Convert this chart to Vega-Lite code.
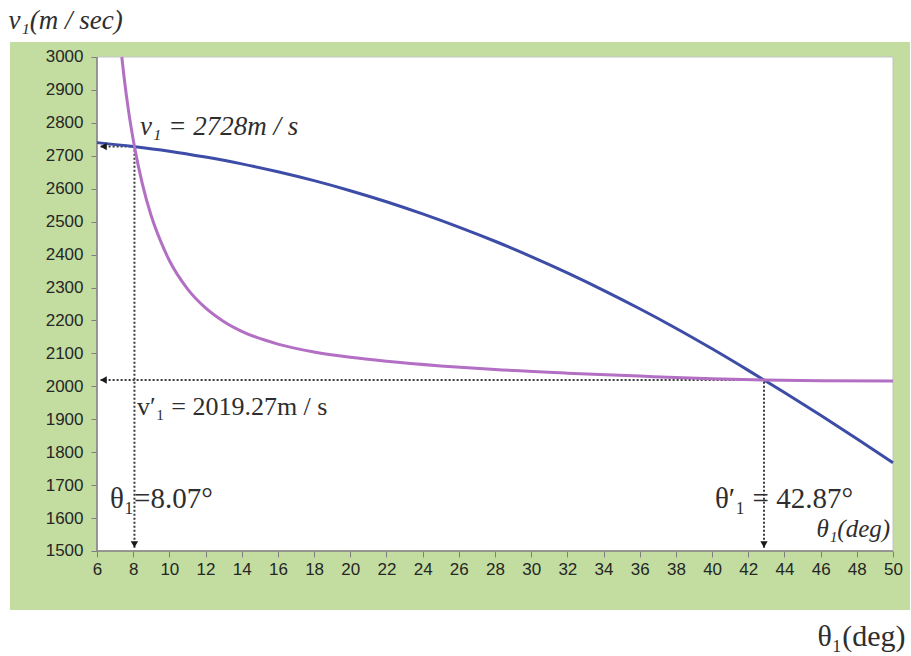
{
  "$schema": "https://vega.github.io/schema/vega-lite/v6.json",
  "width": 900,
  "height": 568,
  "autosize": {"type": "none"},
  "padding": {"left": 10, "top": 42, "right": 1, "bottom": 46},
  "background": "white",
  "config": {
    "view": {"fill": "#c2dd9f", "stroke": null},
    "text": {"font": "Liberation Serif, DejaVu Serif, serif", "color": "#2e2e2e", "align": "left", "baseline": "alphabetic"},
    "axis": {
      "labelOverlap": false, "labelFlush": false, "format": "d", "grid": false, "domain": false,
      "tickCount": 60,
      "tickColor": "#7f7f7f", "tickSize": 6, "tickWidth": 1,
      "labelFont": "Liberation Sans, Arial, sans-serif", "labelFontSize": 17, "labelColor": "#262626",
      "titleFont": "Liberation Serif, DejaVu Serif, serif", "titleFontWeight": "normal", "titleColor": "#2e2e2e",
      "titleBaseline": "alphabetic"
    },
    "axisX": {"offset": -59, "labelPadding": 4, "titleFontSize": 30, "titleAlign": "right", "titleX": 895, "titleY": 94},
    "axisY": {"offset": -87, "labelPadding": 8, "titleFontSize": 27, "titleFontStyle": "italic", "titleAngle": 0, "titleAlign": "left", "titleX": -89, "titleY": -14}
  },
  "data": {"values": [{"note": "annotation"}]},
  "datasets": {
    "frame": [{"t0": 6, "t1": 50, "v0": 1500, "v1": 3000}],
    "blue": [
      {"theta": 6, "v": 2740},
      {"theta": 8, "v": 2728.4},
      {"theta": 10, "v": 2714},
      {"theta": 12, "v": 2696},
      {"theta": 14, "v": 2675.5},
      {"theta": 16, "v": 2651.5},
      {"theta": 18, "v": 2624.5},
      {"theta": 20, "v": 2594},
      {"theta": 22, "v": 2560.5},
      {"theta": 24, "v": 2523.5},
      {"theta": 26, "v": 2483.5},
      {"theta": 28, "v": 2440.5},
      {"theta": 30, "v": 2394},
      {"theta": 32, "v": 2344.5},
      {"theta": 34, "v": 2291.5},
      {"theta": 36, "v": 2235.5},
      {"theta": 38, "v": 2176.5},
      {"theta": 40, "v": 2114},
      {"theta": 42, "v": 2048.5},
      {"theta": 42.87, "v": 2019.27},
      {"theta": 44, "v": 1981},
      {"theta": 46, "v": 1912},
      {"theta": 48, "v": 1841},
      {"theta": 50, "v": 1768}
    ],
    "purple": [
      {"theta": 7.37, "v": 3000},
      {"theta": 7.5, "v": 2937},
      {"theta": 7.75, "v": 2834},
      {"theta": 8.07, "v": 2728},
      {"theta": 8.5, "v": 2616},
      {"theta": 9, "v": 2517},
      {"theta": 9.5, "v": 2443},
      {"theta": 10, "v": 2382},
      {"theta": 11, "v": 2296},
      {"theta": 12, "v": 2238},
      {"theta": 13, "v": 2197},
      {"theta": 14, "v": 2167},
      {"theta": 16, "v": 2128},
      {"theta": 18, "v": 2104},
      {"theta": 20, "v": 2088},
      {"theta": 22, "v": 2076},
      {"theta": 25, "v": 2062},
      {"theta": 28, "v": 2051},
      {"theta": 32, "v": 2040},
      {"theta": 36, "v": 2031},
      {"theta": 40, "v": 2023},
      {"theta": 42.87, "v": 2019.27},
      {"theta": 46, "v": 2017},
      {"theta": 50, "v": 2016}
    ]
  },
  "layer": [
    {
      "data": {"name": "frame"},
      "mark": {"type": "rect", "fill": "white", "stroke": "#c4c4c4", "strokeWidth": 1},
      "encoding": {
        "x": {
          "field": "t0", "type": "quantitative",
          "scale": {"domain": [1.191, 50.94], "nice": false, "zero": false},
          "axis": {
            "values": [6, 8, 10, 12, 14, 16, 18, 20, 22, 24, 26, 28, 30, 32, 34, 36, 38, 40, 42, 44, 46, 48, 50],
            "tickCount": 60,
            "title": "θ₁(deg)"
          }
        },
        "x2": {"field": "t1"},
        "y": {
          "field": "v0", "type": "quantitative",
          "scale": {"domain": [1320.8, 3045.5], "nice": false, "zero": false},
          "axis": {
            "values": [1500, 1600, 1700, 1800, 1900, 2000, 2100, 2200, 2300, 2400, 2500, 2600, 2700, 2800, 2900, 3000],
            "tickCount": 60,
            "title": "v₁(m / sec)"
          }
        },
        "y2": {"field": "v1"}
      }
    },
    {
      "mark": {"type": "rule", "color": "#808080", "strokeWidth": 1.5},
      "encoding": {
        "x": {"datum": 6, "type": "quantitative"},
        "x2": {"datum": 50},
        "y": {"datum": 1500, "type": "quantitative"}
      }
    },
    {
      "mark": {"type": "rule", "color": "#808080", "strokeWidth": 1.5},
      "encoding": {
        "x": {"datum": 6, "type": "quantitative"},
        "y": {"datum": 1500, "type": "quantitative"},
        "y2": {"datum": 3000}
      }
    },
    {
      "mark": {"type": "rule", "color": "#3a3a3a", "strokeWidth": 2, "strokeDash": [2, 2]},
      "encoding": {
        "x": {"datum": 6.2, "type": "quantitative"},
        "x2": {"datum": 8.07},
        "y": {"datum": 2728, "type": "quantitative"}
      }
    },
    {
      "mark": {"type": "rule", "color": "#3a3a3a", "strokeWidth": 2, "strokeDash": [2, 2]},
      "encoding": {
        "x": {"datum": 8.07, "type": "quantitative"},
        "y": {"datum": 1510, "type": "quantitative"},
        "y2": {"datum": 2728}
      }
    },
    {
      "mark": {"type": "rule", "color": "#3a3a3a", "strokeWidth": 2, "strokeDash": [2, 2]},
      "encoding": {
        "x": {"datum": 6.2, "type": "quantitative"},
        "x2": {"datum": 42.87},
        "y": {"datum": 2019.27, "type": "quantitative"}
      }
    },
    {
      "mark": {"type": "rule", "color": "#3a3a3a", "strokeWidth": 2, "strokeDash": [2, 2]},
      "encoding": {
        "x": {"datum": 42.87, "type": "quantitative"},
        "y": {"datum": 1510, "type": "quantitative"},
        "y2": {"datum": 2019.27}
      }
    },
    {
      "data": {"name": "blue"},
      "mark": {"type": "line", "color": "#3d4ca6", "strokeWidth": 3, "interpolate": "monotone"},
      "encoding": {
        "x": {"field": "theta", "type": "quantitative"},
        "y": {"field": "v", "type": "quantitative"}
      }
    },
    {
      "data": {"name": "purple"},
      "mark": {"type": "line", "color": "#b26fc4", "strokeWidth": 3, "interpolate": "monotone"},
      "encoding": {
        "x": {"field": "theta", "type": "quantitative"},
        "y": {"field": "v", "type": "quantitative"}
      }
    },
    {
      "mark": {"type": "point", "shape": "triangle-left", "filled": true, "size": 55, "color": "#1a1a1a", "opacity": 1},
      "encoding": {
        "x": {"datum": 6.36, "type": "quantitative"},
        "y": {"datum": 2728, "type": "quantitative"}
      }
    },
    {
      "mark": {"type": "point", "shape": "triangle-left", "filled": true, "size": 55, "color": "#1a1a1a", "opacity": 1},
      "encoding": {
        "x": {"datum": 6.36, "type": "quantitative"},
        "y": {"datum": 2019.27, "type": "quantitative"}
      }
    },
    {
      "mark": {"type": "point", "shape": "triangle-down", "filled": true, "size": 55, "color": "#1a1a1a", "opacity": 1},
      "encoding": {
        "x": {"datum": 8.07, "type": "quantitative"},
        "y": {"datum": 1520, "type": "quantitative"}
      }
    },
    {
      "mark": {"type": "point", "shape": "triangle-down", "filled": true, "size": 55, "color": "#1a1a1a", "opacity": 1},
      "encoding": {
        "x": {"datum": 42.87, "type": "quantitative"},
        "y": {"datum": 1520, "type": "quantitative"}
      }
    },
    {
      "mark": {"type": "text", "font": "Liberation Serif, DejaVu Serif, serif", "fontSize": 27, "fontStyle": "italic", "text": "v₁ = 2728m / s"},
      "encoding": {
        "x": {"datum": 8.38, "type": "quantitative"},
        "y": {"datum": 2763, "type": "quantitative"}
      }
    },
    {
      "mark": {"type": "text", "font": "Liberation Serif, DejaVu Serif, serif", "fontSize": 26, "text": "v′₁ = 2019.27m / s"},
      "encoding": {
        "x": {"datum": 8.21, "type": "quantitative"},
        "y": {"datum": 1913, "type": "quantitative"}
      }
    },
    {
      "mark": {"type": "text", "font": "Liberation Serif, DejaVu Serif, serif", "fontSize": 29, "text": "θ₁=8.07°"},
      "encoding": {
        "x": {"datum": 6.72, "type": "quantitative"},
        "y": {"datum": 1630, "type": "quantitative"}
      }
    },
    {
      "mark": {"type": "text", "font": "Liberation Serif, DejaVu Serif, serif", "fontSize": 29, "text": "θ′₁ = 42.87°"},
      "encoding": {
        "x": {"datum": 40.16, "type": "quantitative"},
        "y": {"datum": 1630, "type": "quantitative"}
      }
    },
    {
      "mark": {"type": "text", "font": "Liberation Serif, DejaVu Serif, serif", "fontSize": 25, "fontStyle": "italic", "align": "right", "text": "θ₁(deg)"},
      "encoding": {
        "x": {"datum": 49.84, "type": "quantitative"},
        "y": {"datum": 1542, "type": "quantitative"}
      }
    }
  ]
}
